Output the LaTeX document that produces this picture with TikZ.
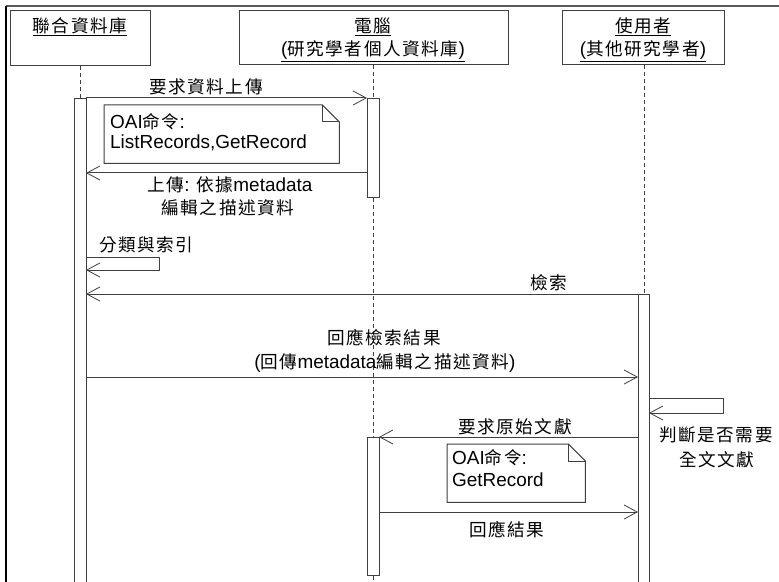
\documentclass[tikz,border=0pt]{standalone}
\usepackage{fontspec}
\setmainfont{Liberation Sans}
\newfontfamily\cjk[LetterSpace=9,Scale=0.93]{Noto Sans CJK TC}
\usetikzlibrary{arrows.meta}
\begin{document}
\begin{tikzpicture}[x=1bp,y=-1bp,
  lc/.style={draw=black!75, line width=1bp},
  objbox/.style={lc, fill=white, line width=1.2bp, inner sep=0pt, anchor=north west},
  bar/.style={lc, fill=white, inner sep=0pt, minimum width=12bp, anchor=north},
  lifeline/.style={lc, dash pattern=on 4bp off 3bp},
  msg/.style={lc, -{Straight Barb[length=13bp,width=14bp,line width=0.8bp]}},
  txt/.style={inner sep=0pt, font=\fontsize{19}{23}\selectfont, text=black},
  notepath/.style={lc, fill=white}]
\fill[white] (0,0) rectangle (779,582);
\useasboundingbox (0,0) rectangle (779,582);
% frame
\draw[draw=black!65, line width=1.2bp] (6,6) -- (779,6);
\draw[draw=black, line width=1.2bp] (6,6) -- (6,582);

% object boxes
\node[objbox, minimum width=140bp, minimum height=55bp] (o1) at (10,10) {};
\node[objbox, minimum width=269bp, minimum height=54bp] (o2) at (239,10) {};
\node[objbox, minimum width=162bp, minimum height=54bp] (o3) at (562,10) {};
\node[txt] (o1t) at (80,27) {\cjk\underline{聯合資料庫}};
\node[txt] (o2t) at (373,27) {\cjk\underline{電腦}};
\node[txt] (o2u) at (373,51) {\underline{(\cjk 研究學者個人資料庫\rm)}};
\node[txt] (o3t) at (643,27) {\cjk\underline{使用者}};
\node[txt] (o3u) at (643,51) {\underline{(\cjk 其他研究學者\rm)}};

% lifelines
\coordinate (e1) at (80,582);
\coordinate (e2) at (373,582);
\coordinate (e3) at (644,582);
\draw[lifeline] (o1.south -| e1) -- (e1);
\draw[lifeline] (o2.south -| e2) -- (e2);
\draw[lifeline] (o3.south -| e3) -- (e3);

% activation bars
\node[bar, minimum height=500bp] (b1) at (80,98) {};
\node[bar, minimum height=99bp] (b2a) at (373,98) {};
\node[bar, minimum height=138bp] (b2b) at (373,437) {};
\node[bar, minimum width=11bp, minimum height=300bp] (b3) at (643.5,294) {};

% message 1
\coordinate (m1s) at (86,98);
\coordinate (m1e) at (367,98);
\draw[msg] (m1s) -- (m1e);
\node[txt] (l1) at (206,87) {\cjk 要求資料上傳};

% note 1
\node[inner sep=0pt, minimum width=235bp, minimum height=58bp, anchor=north west] (n1) at (104,105) {};
\draw[notepath] (n1.north west) -- ([xshift=-17bp]n1.north east) -- ([yshift=-17bp]n1.north east) -- (n1.south east) -- (n1.south west) -- cycle;
\draw[lc] ([xshift=-17bp]n1.north east) -- ([xshift=-17bp,yshift=-17bp]n1.north east) -- ([yshift=-17bp]n1.north east);
\node[txt, anchor=west] (n1a) at (110,122) {OAI{\cjk 命令}:};
\node[txt, anchor=west] (n1b) at (110,143) {ListRecords,GetRecord};

% message 2
\coordinate (m2s) at (367,173);
\coordinate (m2e) at (86,173);
\draw[msg] (m2s) -- (m2e);
\node[txt] (l2a) at (230,185) {{\cjk 上傳}: {\cjk 依據}metadata};
\node[txt] (l2b) at (228,208) {\cjk 編輯之描述資料};

% self message 1
\coordinate (s1a) at (86,257);
\coordinate (s1b) at (159,257);
\coordinate (s1c) at (159,270);
\coordinate (s1d) at (86,270);
\draw[msg] (s1a) -- (s1b) -- (s1c) -- (s1d);
\node[txt, anchor=west] (l3) at (99,245) {\cjk 分類與索引};

% message 3
\coordinate (m3s) at (638,294);
\coordinate (m3e) at (86,294);
\draw[msg] (m3s) -- (m3e);
\node[txt] (l4) at (549,283) {\cjk 檢索};

% message 4
\coordinate (m4s) at (86,377);
\coordinate (m4e) at (638,377);
\draw[msg] (m4s) -- (m4e);
\node[txt] (l5a) at (384,338) {\cjk 回應檢索結果};
\node[txt] (l5b) at (385,363) {({\cjk 回傳}metadata{\cjk 編輯之描述資料})};

% self message 3
\coordinate (s3a) at (649,398);
\coordinate (s3b) at (723,398);
\coordinate (s3c) at (723,413);
\coordinate (s3d) at (649,413);
\draw[msg] (s3a) -- (s3b) -- (s3c) -- (s3d);
\node[txt] (l6a) at (716,435) {\cjk 判斷是否需要};
\node[txt] (l6b) at (717,460) {\cjk 全文文獻};

% message 5
\coordinate (m5s) at (638,437);
\coordinate (m5e) at (379,437);
\draw[msg] (m5s) -- (m5e);
\node[txt] (l7) at (515,427) {\cjk 要求原始文獻};

% note 2
\node[inner sep=0pt, minimum width=138bp, minimum height=58bp, anchor=north west] (n2) at (447,444) {};
\draw[notepath] (n2.north west) -- ([xshift=-17bp]n2.north east) -- ([yshift=-17bp]n2.north east) -- (n2.south east) -- (n2.south west) -- cycle;
\draw[lc] ([xshift=-17bp]n2.north east) -- ([xshift=-17bp,yshift=-17bp]n2.north east) -- ([yshift=-17bp]n2.north east);
\node[txt, anchor=west] (n2a) at (452,458) {OAI{\cjk 命令}:};
\node[txt, anchor=west] (n2b) at (452,480) {GetRecord};

% message 6
\coordinate (m6s) at (379,512);
\coordinate (m6e) at (638,512);
\draw[msg] (m6s) -- (m6e);
\node[txt] (l8) at (507,530) {\cjk 回應結果};
\end{tikzpicture}
\end{document}
